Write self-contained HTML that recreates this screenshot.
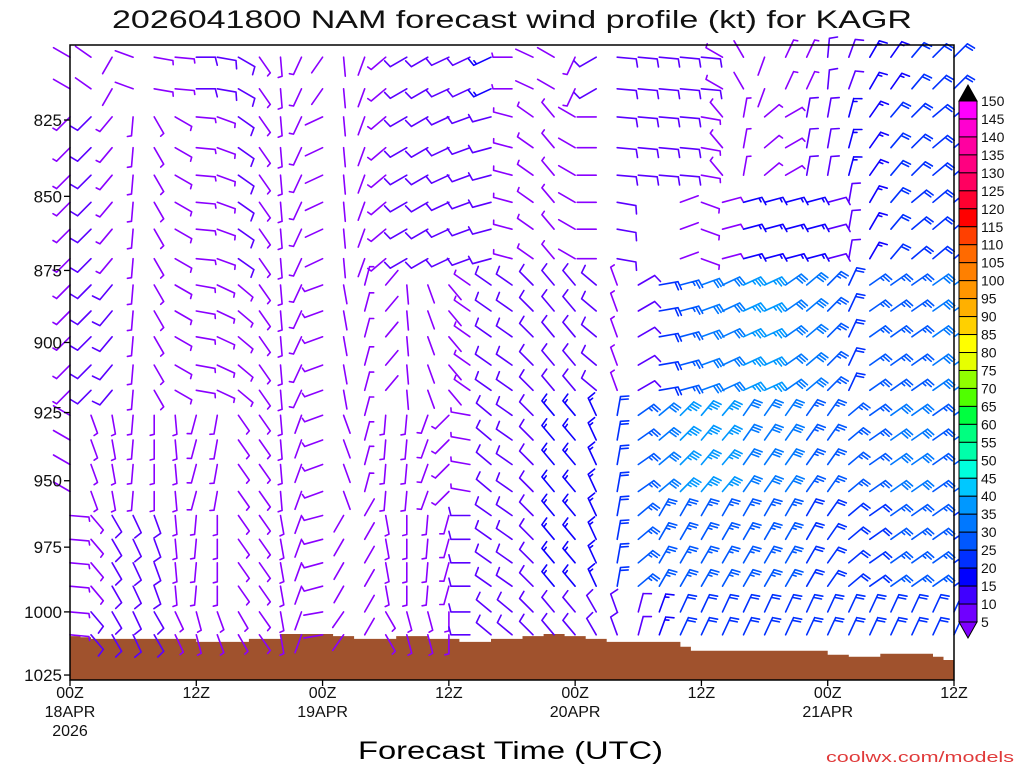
<!DOCTYPE html>
<html><head><meta charset="utf-8"><title>NAM wind profile KAGR</title>
<style>
html,body{margin:0;padding:0;background:#fff;}
svg{display:block;font-family:"Liberation Sans","DejaVu Sans",sans-serif;}
</style></head>
<body>
<svg id="chart" width="1024" height="768" viewBox="0 0 1024 768" xmlns="http://www.w3.org/2000/svg">
<rect x="0" y="0" width="1024" height="768" fill="#fff"/>
<text x="112" y="28" font-size="25" textLength="800" lengthAdjust="spacingAndGlyphs" fill="#111">2026041800 NAM forecast wind profile (kt) for KAGR</text>
<g id="terrain"></g>
<g id="barbs"></g>
<rect x="70" y="45" width="884" height="635" fill="none" stroke="#000" stroke-width="1.5"/>
<g id="yaxis"></g>
<g id="xaxis"></g>
<g id="cbar"></g>
<text x="358" y="759" font-size="25" textLength="305" lengthAdjust="spacingAndGlyphs" fill="#000">Forecast Time (UTC)</text>
<text x="826" y="762" font-size="15" textLength="188" lengthAdjust="spacingAndGlyphs" fill="#e03a3a">coolwx.com/models</text>
</svg>
<script>
// ---- data ----
const hours = [0,2,4,6,8,10,12,14,16,18,20,22,24,26,28,30,32,34,36,38,40,42,44,46,48,50,52,54,56,58,60,62,64,66,68,70,72,74,76,78,80,82,84];
const bandLevels = [[805,815],[824,834,843],[852,861,871],[880,889,898,908,917],[926,935,944,954],[963,972,981,990],[1000,1009]];
const dirA = [300,305,210,290,100,95,90,100,120,145,175,205,215,175,200,230,240,240,245,245,245,270,295,300,205,240,95,95,95,95,95,300,330,200,25,25,5,20,30,35,40,45,45];
const spdA = [2,2,2,2,5,5,10,10,10,5,5,5,3,2,2,5,10,10,10,10,15,5,2,3,5,10,10,10,10,10,10,5,2,2,5,5,10,10,15,15,20,20,20];
const dirB = [225,225,220,185,150,120,95,110,125,145,175,205,245,175,200,230,240,240,245,250,255,285,305,320,300,270,95,95,95,95,100,320,10,50,60,10,10,15,35,40,45,50,50];
const spdB = [5,10,5,5,5,5,5,5,10,5,5,5,3,2,2,5,10,10,10,10,10,5,5,5,3,3,10,10,10,10,5,5,5,5,5,10,10,15,15,20,20,20,20];
const dirC = [225,225,220,185,150,120,95,110,125,145,175,205,245,175,200,230,240,240,245,250,255,285,305,320,300,270,100,0,0,70,110,75,75,75,75,75,75,10,30,40,50,50,50];
const spdC = [5,10,5,5,5,5,5,5,10,5,5,5,3,2,2,5,10,10,10,10,10,5,5,5,3,3,10,0,0,3,5,5,15,15,15,15,10,10,15,20,20,20,20];
const dirD = [225,225,220,185,150,120,100,115,130,145,175,205,250,170,15,40,175,160,140,305,305,305,315,320,320,310,340,60,80,75,70,65,65,65,55,50,45,25,55,55,55,55,55];
const spdD = [5,10,10,5,5,5,5,5,5,5,5,5,5,2,5,2,2,3,3,5,10,10,10,10,10,10,5,10,20,25,30,30,35,35,30,30,25,20,25,25,25,30,30];
const dirE = [300,160,170,185,180,175,195,190,145,145,175,200,250,160,15,185,185,200,225,280,310,305,315,320,320,335,10,55,50,45,40,40,35,35,35,35,35,50,55,55,55,55,55];
const spdE = [2,5,5,5,5,5,5,5,5,5,5,3,5,2,5,5,5,5,5,5,10,10,10,15,15,15,20,25,30,35,35,35,30,30,30,25,25,25,25,30,30,25,25];
const dirF = [95,140,150,155,160,175,185,180,145,145,170,200,255,210,30,170,180,185,195,270,305,305,315,320,320,335,10,50,30,30,30,30,30,30,30,30,35,50,55,55,55,55,55];
const spdF = [5,5,10,10,10,5,5,5,5,5,5,3,5,2,3,5,5,5,5,10,10,10,10,15,15,15,20,25,25,25,25,25,25,25,25,20,20,20,20,25,25,25,20];
const dirG = [95,140,150,155,150,155,165,160,150,145,170,200,260,215,30,150,165,165,180,270,310,310,315,320,320,330,340,15,20,25,25,25,25,25,25,25,25,25,25,25,25,25,25];
const spdG = [5,10,10,10,10,5,5,5,5,5,5,3,3,2,2,5,5,5,5,10,10,10,10,10,10,10,10,10,15,20,20,20,20,20,20,20,20,20,20,20,20,20,20];
const sfcP = [1009.5,1010,1010.6,1010.6,1010.6,1010.6,1010.6,1010.6,1010.6,1010.6,1010.6,1010.6,1011.8,1011.8,1011.8,1011.8,1011.8,1010.6,1010.6,1010.6,1008.7,1008.7,1008.7,1008.7,1008.7,1009.5,1009.5,1010.6,1010.6,1010.6,1010.6,1009.5,1009.5,1009.5,1010.6,1010.6,1010.6,1011.8,1011.8,1011.8,1010.6,1010.6,1010.6,1009.5,1009.5,1008.7,1008.7,1009.5,1009.5,1010.6,1010.6,1011.8,1011.8,1011.8,1011.8,1011.8,1011.8,1011.8,1013.7,1015.3,1015.3,1015.3,1015.3,1015.3,1015.3,1015.3,1015.3,1015.3,1015.3,1015.3,1015.3,1015.3,1016.9,1016.9,1017.7,1017.7,1017.7,1016.5,1016.5,1016.5,1016.5,1016.5,1017.7,1019];
const yTicks = [825,850,875,900,925,950,975,1000,1025];
const xTickHours = [0,12,24,36,48,60,72,84];
const xTickLine1 = ["00Z","12Z","00Z","12Z","00Z","12Z","00Z","12Z"];
const xTickLine2 = ["18APR","","19APR","","20APR","","21APR",""];
const xTickLine3 = ["2026","","","","","","",""];
const cbarLabels = [150,145,140,135,130,125,120,115,110,105,100,95,90,85,80,75,70,65,60,55,50,45,40,35,30,25,20,15,10,5];
const cbarColors = ["#ff00ff","#ff00d0","#ff00a0","#ff0080","#ff0060","#ff0030","#ff0000","#ff4000","#ff6a00","#ff8000","#ff9600","#ffb000","#ffd000","#ffff00","#e6ff00","#90ff00","#50ff00","#00ff40","#00ff80","#00ffaa","#00ffdd","#00c8ff","#0098ff","#0078ff","#0058ff","#0030ff","#0000ff","#4000ff","#7000ff"];

// ---- scales ----
const NS = "http://www.w3.org/2000/svg";
function X(h){ return 70 + h * (884/84); }
function Y(p){ return 120 + 2557 * Math.log(p/825); }
function mk(tag, attrs, parent){ const e=document.createElementNS(NS,tag); for(const k in attrs) e.setAttribute(k, attrs[k]); parent.appendChild(e); return e; }
function barbColor(s){
  if(s<10) return "#8a00ff"; if(s<15) return "#5a00ff"; if(s<20) return "#1000ff";
  if(s<25) return "#0030ff"; if(s<30) return "#0058ff"; if(s<35) return "#0078ff"; return "#0098ff";
}

// ---- terrain ----
const tg = document.getElementById("terrain");
let d = "M70,680";
for(let h=0; h<sfcP.length; h++){
  const y = Math.min(680, Y(sfcP[h]));
  d += " L" + X(h).toFixed(1) + "," + y.toFixed(1) + " L" + X(h+1).toFixed(1) + "," + y.toFixed(1);
}
d += " L954,680 Z";
const terr = mk("path", {d:d, fill:"#a0522d"}, tg);



// ---- barbs ----
const bg = document.getElementById("barbs");
const bandDirs = [dirA,dirB,dirC,dirD,dirE,dirF,dirG];
const bandSpds = [spdA,spdB,spdC,spdD,spdE,spdF,spdG];
const L = 19;
for(let b=0; b<bandLevels.length; b++){
  for(const p of bandLevels[b]){
    for(let i=0; i<hours.length; i++){
      const s = bandSpds[b][i], dir = bandDirs[b][i], h = hours[i];
      if(s<=0) continue;
      const sh = Math.min(sfcP.length-1, h);
      if(p > sfcP[sh] + 1) continue;
      const r = dir*Math.PI/180;
      const ux = Math.sin(r), uy = -Math.cos(r), px = Math.cos(r), py = Math.sin(r);
      const bx = X(h), by = Y(p);
      const tx = bx + L*ux, ty = by + L*uy;
      let pd = "M"+bx.toFixed(1)+","+by.toFixed(1)+" L"+tx.toFixed(1)+","+ty.toFixed(1);
      let full = Math.floor(s/10), half = (s%10)>=5 ? 1 : 0;
      let cx = tx, cy = ty;
      for(let f=0; f<full; f++){
        pd += " M"+cx.toFixed(1)+","+cy.toFixed(1)+" L"+(cx+8*px+2*ux).toFixed(1)+","+(cy+8*py+2*uy).toFixed(1);
        cx -= 3*ux; cy -= 3*uy;
      }
      if(half){
        pd += " M"+cx.toFixed(1)+","+cy.toFixed(1)+" L"+(cx+4*px+1*ux).toFixed(1)+","+(cy+4*py+1*uy).toFixed(1);
      }
      const el = mk("path", {d:pd, stroke:barbColor(s), "stroke-width":"1.6", fill:"none", "stroke-linecap":"round"}, bg);
      
      
    }
  }
}

// ---- y axis ----
const yg = document.getElementById("yaxis");
for(const p of yTicks){
  const y = Y(p);
  const t = mk("line", {x1:64, x2:70, y1:y, y2:y, stroke:"#000", "stroke-width":"1.3"}, yg);
  
  
  const lb = mk("text", {x:62, y:y+6, "font-size":"17", "text-anchor":"end", fill:"#111"}, yg);
  lb.textContent = p;
  
  
}

// ---- x axis ----
const xg = document.getElementById("xaxis");
for(let k=0; k<xTickHours.length; k++){
  const x = X(xTickHours[k]);
  const t = mk("line", {x1:x, x2:x, y1:680, y2:686, stroke:"#000", "stroke-width":"1.3"}, xg);
  
  
  const lines = [xTickLine1[k], xTickLine2[k], xTickLine3[k]];
  for(let j=0; j<3; j++){
    if(!lines[j]) continue;
    const lb = mk("text", {x:x, y:698+j*19, "font-size":"16", "text-anchor":"middle", fill:"#111"}, xg);
    lb.textContent = lines[j];
    
    
  }
}

// ---- colorbar ----
const cg = document.getElementById("cbar");
const cTop = 101, cBot = 622, bh = (cBot-cTop)/cbarColors.length;
const tri1 = mk("path", {d:"M959,"+cTop+" L977,"+cTop+" L968,85 Z", fill:"#000", stroke:"#000"}, cg);


for(let k=0; k<cbarColors.length; k++){
  const r = mk("rect", {x:959, y:cTop+k*bh, width:18, height:bh, fill:cbarColors[k], stroke:"#000", "stroke-width":"1"}, cg);
  
  
}
const tri2 = mk("path", {d:"M959,"+cBot+" L977,"+cBot+" L968,638 Z", fill:"#8000ff", stroke:"#000"}, cg);


for(let k=0; k<cbarLabels.length; k++){
  const lb = mk("text", {x:981, y:cTop+k*bh+5, "font-size":"14", fill:"#111"}, cg);
  lb.textContent = cbarLabels[k];
  
  
}
</script>
</body></html>
